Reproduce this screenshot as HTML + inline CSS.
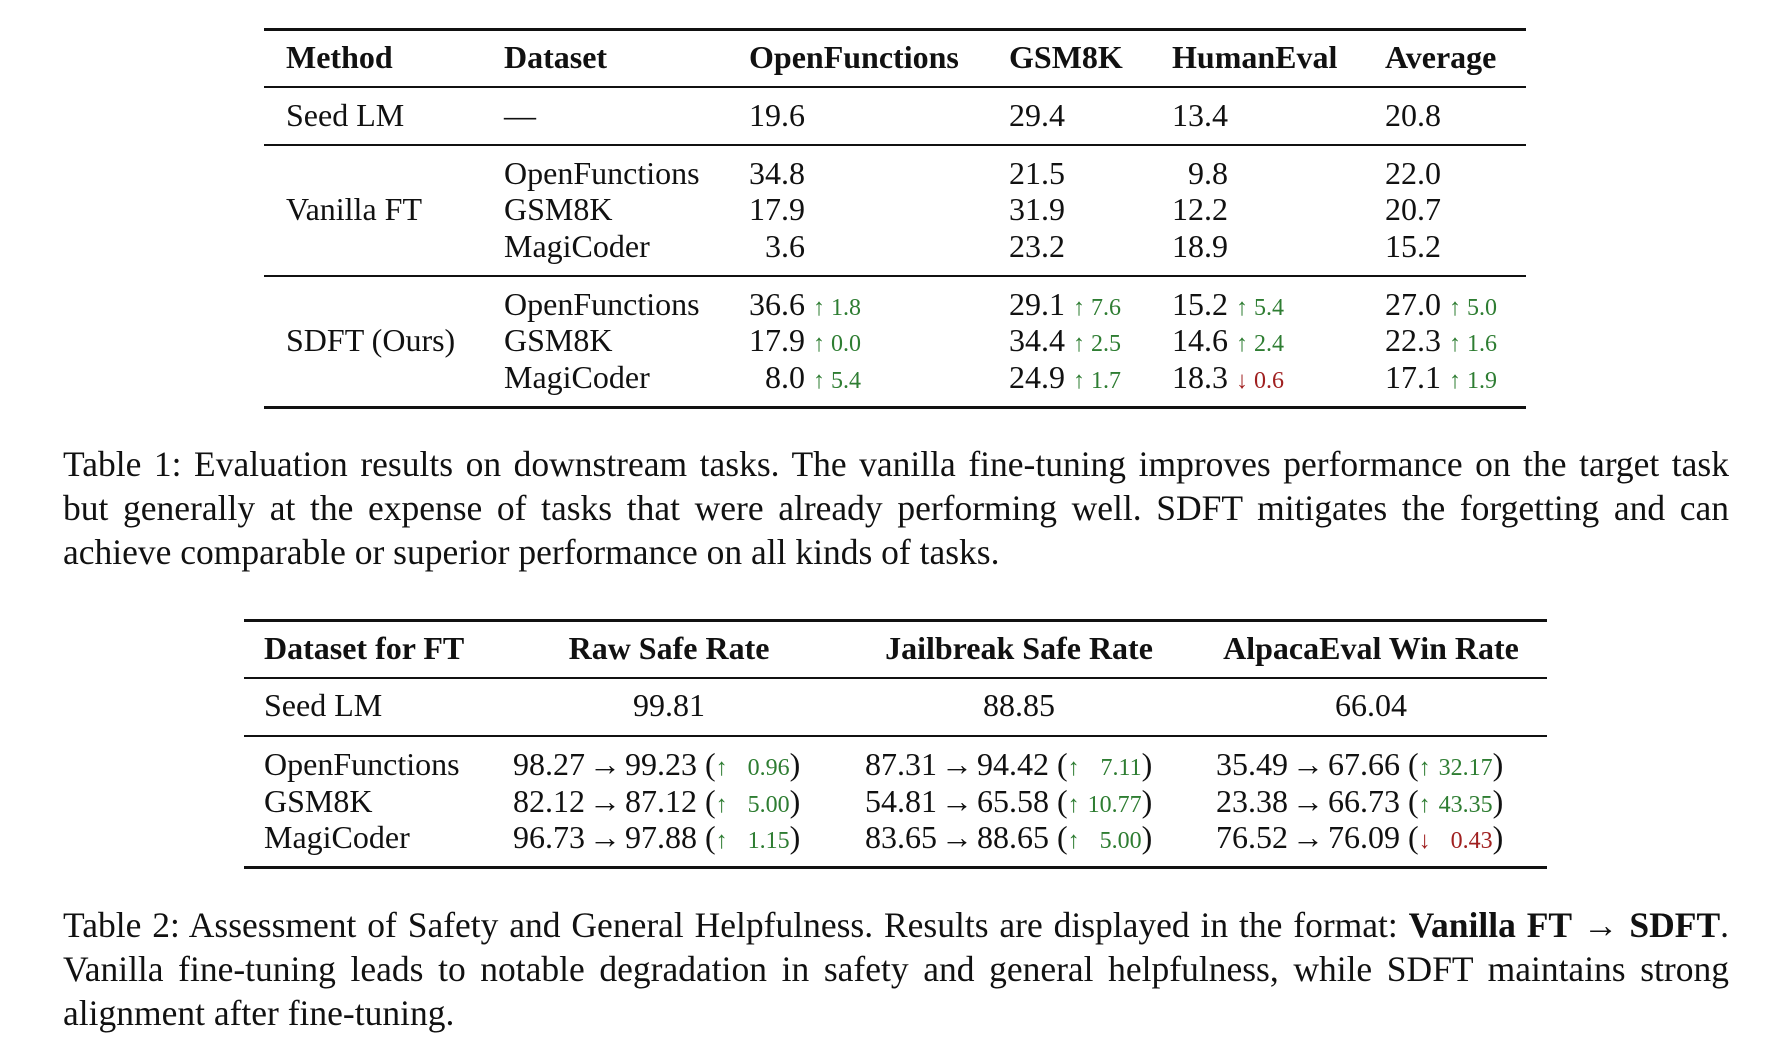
<!DOCTYPE html>
<html><head><meta charset="utf-8"><style>
html,body{margin:0;padding:0;background:#fff;}
body{width:1792px;height:1054px;position:relative;overflow:hidden;font-family:"Liberation Serif",serif;color:#111;}
.t{position:absolute;font-size:32px;line-height:36px;height:36px;white-space:nowrap;}
.b{font-weight:bold;}
.r{position:absolute;background:#111;}
.n{display:inline-block;width:56px;text-align:right;}
.g{color:#2e7d32;font-size:24px;}
.d{color:#a02020;font-size:24px;}
.c{text-align:center;}
.cl{position:absolute;left:63px;width:1666px;font-size:35.5px;line-height:44px;height:44px;white-space:nowrap;text-align:justify;text-align-last:justify;}
.cl.last{text-align:left;text-align-last:left;}
.sm{display:inline-block;text-align:right;}
.ar{margin:0 4px;}
</style></head><body>
<!-- Table 1 -->
<div class="r" style="left:264px;top:28px;width:1262px;height:3px"></div>
<div class="r" style="left:264px;top:86px;width:1262px;height:2px"></div>
<div class="r" style="left:264px;top:144px;width:1262px;height:2px"></div>
<div class="r" style="left:264px;top:275px;width:1262px;height:2px"></div>
<div class="r" style="left:264px;top:406px;width:1262px;height:3px"></div>

<div class="t b" style="left:286px;top:39px">Method</div>
<div class="t b" style="left:504px;top:39px">Dataset</div>
<div class="t b" style="left:749px;top:39px">OpenFunctions</div>
<div class="t b" style="left:1009px;top:39px">GSM8K</div>
<div class="t b" style="left:1172px;top:39px">HumanEval</div>
<div class="t b" style="left:1385px;top:39px">Average</div>

<div class="t" style="left:286px;top:97px">Seed LM</div>
<div class="t" style="left:504px;top:97px">—</div>
<div class="t" style="left:749px;top:97px"><span class="n">19.6</span></div>
<div class="t" style="left:1009px;top:97px"><span class="n">29.4</span></div>
<div class="t" style="left:1172px;top:97px"><span class="n">13.4</span></div>
<div class="t" style="left:1385px;top:97px"><span class="n">20.8</span></div>

<div class="t" style="left:286px;top:191px">Vanilla FT</div>
<div class="t" style="left:504px;top:155px">OpenFunctions</div>
<div class="t" style="left:504px;top:191px">GSM8K</div>
<div class="t" style="left:504px;top:228px">MagiCoder</div>
<div class="t" style="left:749px;top:155px"><span class="n">34.8</span></div>
<div class="t" style="left:749px;top:191px"><span class="n">17.9</span></div>
<div class="t" style="left:749px;top:228px"><span class="n">3.6</span></div>
<div class="t" style="left:1009px;top:155px"><span class="n">21.5</span></div>
<div class="t" style="left:1009px;top:191px"><span class="n">31.9</span></div>
<div class="t" style="left:1009px;top:228px"><span class="n">23.2</span></div>
<div class="t" style="left:1172px;top:155px"><span class="n">9.8</span></div>
<div class="t" style="left:1172px;top:191px"><span class="n">12.2</span></div>
<div class="t" style="left:1172px;top:228px"><span class="n">18.9</span></div>
<div class="t" style="left:1385px;top:155px"><span class="n">22.0</span></div>
<div class="t" style="left:1385px;top:191px"><span class="n">20.7</span></div>
<div class="t" style="left:1385px;top:228px"><span class="n">15.2</span></div>

<div class="t" style="left:286px;top:322px">SDFT (Ours)</div>
<div class="t" style="left:504px;top:286px">OpenFunctions</div>
<div class="t" style="left:504px;top:322px">GSM8K</div>
<div class="t" style="left:504px;top:359px">MagiCoder</div>
<div class="t" style="left:749px;top:286px"><span class="n">36.6</span> <span class="g">↑ 1.8</span></div>
<div class="t" style="left:749px;top:322px"><span class="n">17.9</span> <span class="g">↑ 0.0</span></div>
<div class="t" style="left:749px;top:359px"><span class="n">8.0</span> <span class="g">↑ 5.4</span></div>
<div class="t" style="left:1009px;top:286px"><span class="n">29.1</span> <span class="g">↑ 7.6</span></div>
<div class="t" style="left:1009px;top:322px"><span class="n">34.4</span> <span class="g">↑ 2.5</span></div>
<div class="t" style="left:1009px;top:359px"><span class="n">24.9</span> <span class="g">↑ 1.7</span></div>
<div class="t" style="left:1172px;top:286px"><span class="n">15.2</span> <span class="g">↑ 5.4</span></div>
<div class="t" style="left:1172px;top:322px"><span class="n">14.6</span> <span class="g">↑ 2.4</span></div>
<div class="t" style="left:1172px;top:359px"><span class="n">18.3</span> <span class="d">↓ 0.6</span></div>
<div class="t" style="left:1385px;top:286px"><span class="n">27.0</span> <span class="g">↑ 5.0</span></div>
<div class="t" style="left:1385px;top:322px"><span class="n">22.3</span> <span class="g">↑ 1.6</span></div>
<div class="t" style="left:1385px;top:359px"><span class="n">17.1</span> <span class="g">↑ 1.9</span></div>

<div class="cl" style="top:442px">Table 1: Evaluation results on downstream tasks. The vanilla fine-tuning improves performance on the target task</div>
<div class="cl" style="top:486px">but generally at the expense of tasks that were already performing well. SDFT mitigates the forgetting and can</div>
<div class="cl last" style="top:530px">achieve comparable or superior performance on all kinds of tasks.</div>

<!-- Table 2 -->
<div class="r" style="left:244px;top:619px;width:1303px;height:3px"></div>
<div class="r" style="left:244px;top:677px;width:1303px;height:2px"></div>
<div class="r" style="left:244px;top:735px;width:1303px;height:2px"></div>
<div class="r" style="left:244px;top:866px;width:1303px;height:3px"></div>

<div class="t b" style="left:264px;top:630px">Dataset for FT</div>
<div class="t b c" style="left:519px;width:300px;top:630px">Raw Safe Rate</div>
<div class="t b c" style="left:849px;width:340px;top:630px">Jailbreak Safe Rate</div>
<div class="t b c" style="left:1201px;width:340px;top:630px">AlpacaEval Win Rate</div>

<div class="t" style="left:264px;top:687px">Seed LM</div>
<div class="t c" style="left:569px;width:200px;top:687px">99.81</div>
<div class="t c" style="left:919px;width:200px;top:687px">88.85</div>
<div class="t c" style="left:1271px;width:200px;top:687px">66.04</div>

<div class="t" style="left:264px;top:746px">OpenFunctions</div>
<div class="t" style="left:264px;top:783px">GSM8K</div>
<div class="t" style="left:264px;top:819px">MagiCoder</div>

<div class="t" style="left:513px;top:746px">98.27<span class="ar">→</span>99.23 (<span class="g">↑ <span class="sm" style="width:56px">0.96</span></span>)</div>
<div class="t" style="left:513px;top:783px">82.12<span class="ar">→</span>87.12 (<span class="g">↑ <span class="sm" style="width:56px">5.00</span></span>)</div>
<div class="t" style="left:513px;top:819px">96.73<span class="ar">→</span>97.88 (<span class="g">↑ <span class="sm" style="width:56px">1.15</span></span>)</div>

<div class="t" style="left:865px;top:746px">87.31<span class="ar">→</span>94.42 (<span class="g">↑ <span class="sm" style="width:56px">7.11</span></span>)</div>
<div class="t" style="left:865px;top:783px">54.81<span class="ar">→</span>65.58 (<span class="g">↑ <span class="sm" style="width:56px">10.77</span></span>)</div>
<div class="t" style="left:865px;top:819px">83.65<span class="ar">→</span>88.65 (<span class="g">↑ <span class="sm" style="width:56px">5.00</span></span>)</div>

<div class="t" style="left:1216px;top:746px">35.49<span class="ar">→</span>67.66 (<span class="g">↑ <span class="sm" style="width:56px">32.17</span></span>)</div>
<div class="t" style="left:1216px;top:783px">23.38<span class="ar">→</span>66.73 (<span class="g">↑ <span class="sm" style="width:56px">43.35</span></span>)</div>
<div class="t" style="left:1216px;top:819px">76.52<span class="ar">→</span>76.09 (<span class="d">↓ <span class="sm" style="width:56px">0.43</span></span>)</div>

<div class="cl" style="top:903px">Table 2: Assessment of Safety and General Helpfulness. Results are displayed in the format: <b>Vanilla FT</b> → <b>SDFT</b>.</div>
<div class="cl" style="top:947px">Vanilla fine-tuning leads to notable degradation in safety and general helpfulness, while SDFT maintains strong</div>
<div class="cl last" style="top:991px">alignment after fine-tuning.</div>
</body></html>
